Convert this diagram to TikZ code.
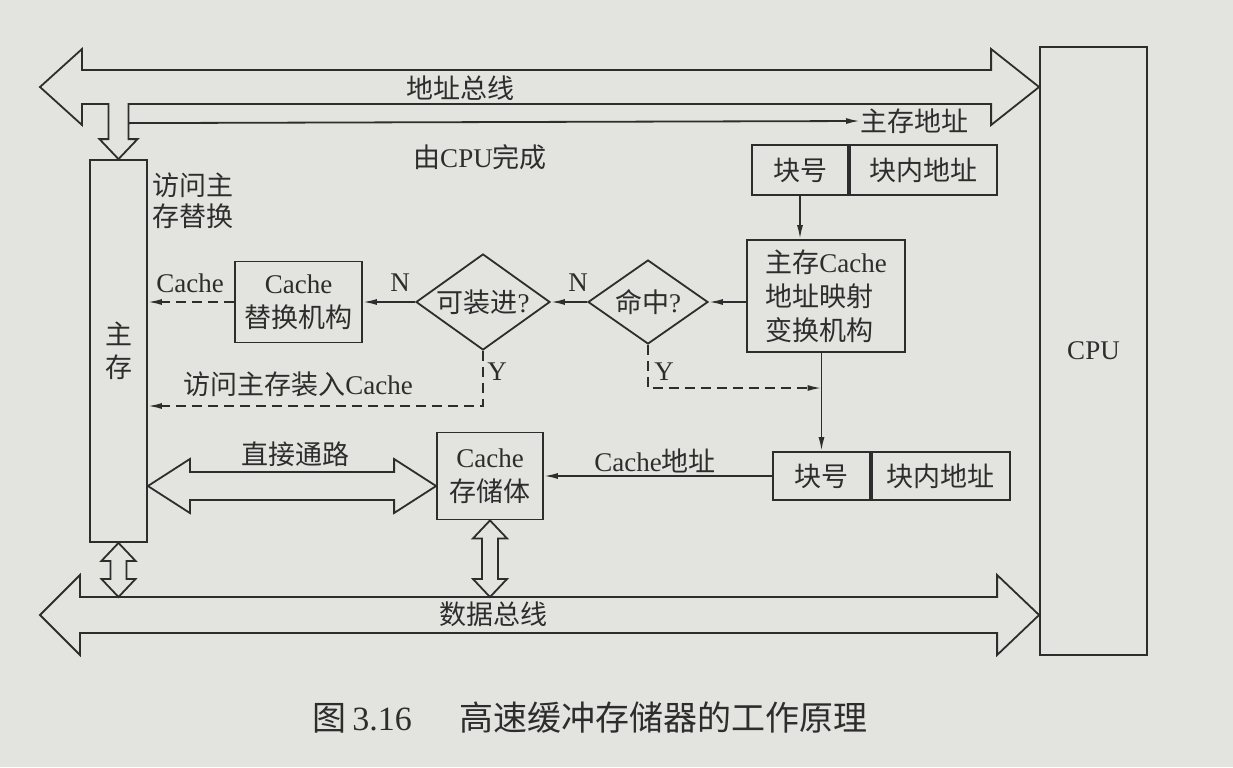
\documentclass[tikz,border=0pt]{standalone}
\usepackage{fontspec}
\setmainfont{Liberation Serif}
\newfontfamily\cjk{Noto Sans CJK SC}
\newcommand\zh[1]{{\cjk #1}}
\newcommand\lblfont{\fontsize{13.5}{17}\selectfont}
\usetikzlibrary{arrows.meta,calc,shapes.geometric}
\definecolor{bg}{RGB}{227,227,223}
\definecolor{ink}{RGB}{45,45,45}
\begin{document}
\begin{tikzpicture}[x=0.5pt,y=-0.5pt,
 ln/.style={draw=ink,line width=0.9pt},
 box/.style={ln,rectangle,inner sep=0pt,align=center,font=\lblfont,text=ink},
 dia/.style={ln,diamond,inner sep=0pt,font=\lblfont,text=ink,aspect=1.4},
 arr/.style={ln,-{Latex[length=7pt,width=3pt]}},
 darr/.style={arr,dash pattern=on 5pt off 3pt},
 hol/.style={ln,fill=bg,line join=miter},
 lbl/.style={inner sep=0pt,font=\lblfont,text=ink}]
\fill[bg] (0,0) rectangle (1233,767);
\useasboundingbox (0,0) rectangle (1233,767);

% main boxes
\node[box,minimum width=53.5pt,minimum height=304pt] (cpu) at (1093.5,351) {CPU};
\node[box,minimum width=28.5pt,minimum height=191pt] (mm) at (118.5,351) {\zh{主}\\[-0.5pt]\zh{存}};
\node[box,minimum width=48pt,minimum height=25pt] (ta1) at (800,170) {\zh{块号}};
\node[box,minimum width=73.5pt,minimum height=25pt,anchor=west] (ta2) at (ta1.east) {\zh{块内地址}};
\node[box,minimum width=79pt,minimum height=56pt,align=left] (map) at (826,296) {\zh{主存}Cache\\\zh{地址映射}\\\zh{变换机构}};
\node[dia,minimum width=60pt,minimum height=42pt] (d1) at (648,302) {\zh{命中}?};
\node[dia,minimum width=67pt,minimum height=48pt] (d2) at (483,302) {\zh{可装进}?};
\node[box,minimum width=63.5pt,minimum height=40.5pt] (rb) at (298.5,302) {Cache\\\zh{替换机构}};
\node[box,minimum width=48.5pt,minimum height=24pt] (lb1) at (821.5,476) {\zh{块号}};
\node[box,minimum width=69pt,minimum height=24pt,anchor=west] (lb2) at (lb1.east) {\zh{块内地址}};
\node[box,minimum width=53pt,minimum height=43.5pt] (cs) at (490,476) {Cache\\\zh{存储体}};

% free ends
\coordinate (abL) at (40,87);
\coordinate (dbL) at (40,615);
\coordinate (zcs) at ($(mm.north)+(10,-36)$);
\coordinate (yl1) at (0,406);
\coordinate (yl2) at (0,388);

% address bus with branch to main memory
\draw[hol] let \p1=(abL), \p2=(cpu.west |- abL), \p3=(mm.north) in
 (\x1,\y1) -- (\x1+21pt,\y1+19pt) -- (\x1+21pt,\y1+8.5pt) -- (\x2-24pt,\y1+8.5pt) -- (\x2-24pt,\y1+19pt) -- (\x2,\y1)
 -- (\x2-24pt,\y1-19pt) -- (\x2-24pt,\y1-8.5pt) -- (\x3+5pt,\y1-8.5pt) -- (\x3+5pt,\y3+10pt) -- (\x3+9.5pt,\y3+10pt)
 -- (\x3,\y3) -- (\x3-9.5pt,\y3+10pt) -- (\x3-5pt,\y3+10pt) -- (\x3-5pt,\y1-8.5pt) -- (\x1+21pt,\y1-8.5pt) -- (\x1+21pt,\y1-19pt) -- cycle;

% data bus
\draw[hol] let \p1=(dbL), \p2=(cpu.west |- dbL) in
 (\x1,\y1) -- (\x1+20pt,\y1+20pt) -- (\x1+20pt,\y1+9pt) -- (\x2-21pt,\y1+9pt) -- (\x2-21pt,\y1+20pt) -- (\x2,\y1)
 -- (\x2-21pt,\y1-20pt) -- (\x2-21pt,\y1-9pt) -- (\x1+20pt,\y1-9pt) -- (\x1+20pt,\y1-20pt) -- cycle;

% vertical hollow arrows to data bus
\foreach \src in {mm,cs}{
\draw[hol] let \p1=(\src.south), \p2=(\src.south |- dbL) in
 (\x1,\y1) -- (\x1+8.5pt,\y1-9pt) -- (\x1+4pt,\y1-9pt) -- (\x1+4pt,\y2+18pt) -- (\x1+8.5pt,\y2+18pt) -- (\x1,\y2+9pt)
 -- (\x1-8.5pt,\y2+18pt) -- (\x1-4pt,\y2+18pt) -- (\x1-4pt,\y1-9pt) -- (\x1-8.5pt,\y1-9pt) -- cycle;
}

% direct path
\draw[hol] let \p1=($(mm.east |- cs.west)+(0,10)$), \p2=($(cs.west)+(0,10)$) in
 (\x1,\y1) -- (\x1+21pt,\y1+13.5pt) -- (\x1+21pt,\y1+7pt) -- (\x2-21pt,\y1+7pt) -- (\x2-21pt,\y1+13.5pt) -- (\x2,\y1)
 -- (\x2-21pt,\y1-13.5pt) -- (\x2-21pt,\y1-7pt) -- (\x1+21pt,\y1-7pt) -- (\x1+21pt,\y1-13.5pt) -- cycle;

% labels
\node[lbl] (abus) at (460,88) {\zh{地址总线}};
\node[lbl] (dbus) at (493,614) {\zh{数据总线}};
\node[lbl,anchor=west] (zcdz) at (860,121) {\zh{主存地址}};
\node[lbl] (bycpu) at (480,157) {\zh{由}CPU\zh{完成}};
\node[lbl,anchor=north west,align=left,font=\fontsize{13.5}{15.5}\selectfont] (fwth) at (152,172) {\zh{访问主}\\\zh{存替换}};
\node[lbl] (lc) at (190,283) {Cache};
\node[lbl] (n1) at (400,283) {N};
\node[lbl] (n2) at (578,283) {N};
\node[lbl] (yy1) at (497,372) {Y};
\node[lbl] (yy2) at (664,372) {Y};
\node[lbl] (fwzr) at (298,384) {\zh{访问主存装入}Cache};
\node[lbl] (zjtl) at (295,454) {\zh{直接通路}};
\node[lbl] (cdz) at (655,461) {Cache\zh{地址}};
\node[lbl,font=\fontsize{17}{20}\selectfont] (cap) at (590,718) {\zh{图}\,3.16\hspace{1.4em}\zh{高速缓冲存储器的工作原理}};

% connectors
\draw[arr] (zcs) -- (zcdz.west);
\draw[arr] (ta1.south) -- (ta1.south |- map.north);
\draw[arr] (map.west |- d1.east) -- (d1.east);
\draw[arr] (d1.west) -- (d2.east);
\draw[arr] (d2.west) -- (rb.east);
\draw[darr] (rb.west) -- (rb.west -| mm.east);
\draw[darr] (d2.south) |- (mm.east |- yl1);
\draw[darr] (d1.south) |- (lb1.north |- yl2);
\draw[arr] (lb1.north |- map.south) -- (lb1.north);
\draw[arr] (lb1.west) -- (lb1.west -| cs.east);
\end{tikzpicture}
\end{document}
